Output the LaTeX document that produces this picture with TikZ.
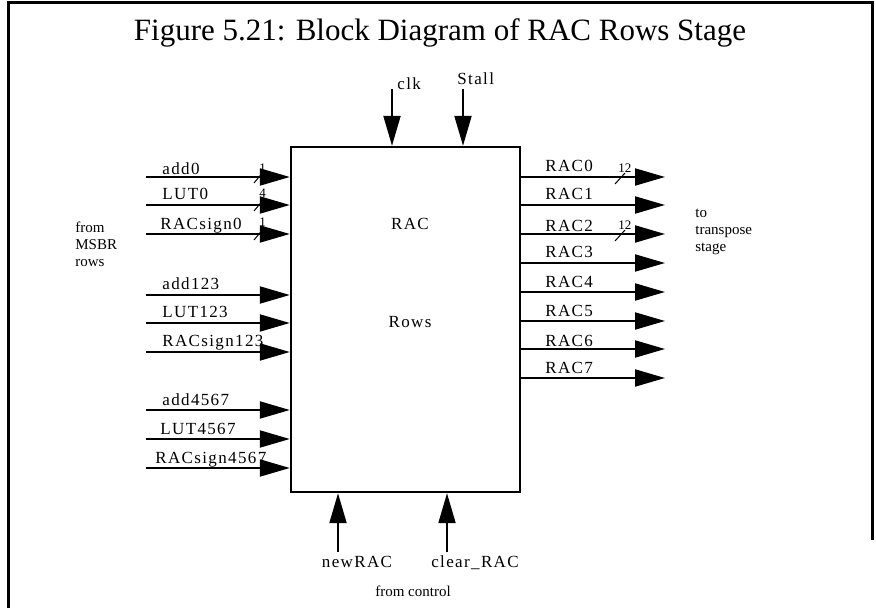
\documentclass[tikz,border=0pt]{standalone}
\usepackage{fontspec}
\setmainfont{Liberation Serif}
\usetikzlibrary{arrows.meta}

\tikzset{
    sig/.style={line width=1pt, -{Triangle[length=15pt, width=8.5pt]}},
    lbl/.style={font=\fontsize{8.5}{9.5}\selectfont\addfontfeature{LetterSpace=8}, inner sep=0pt, anchor=base west},
    busw/.style={font=\fontsize{6.5}{7}\selectfont, inner sep=0pt, anchor=base west},
    note/.style={font=\fontsize{7.5}{8.5}\selectfont, inner sep=0pt, align=left, anchor=west},
}

\begin{document}
\begin{tikzpicture}[x=0.5pt, y=-0.5pt]
    \useasboundingbox (0,0) rectangle (876,608);
    % Рамка
    \draw[line width=1.5pt] (8,608) -- (8,3) -- (872,3) -- (872,540);

    % Заголовок
    \node[font=\fontsize{15.5}{18}\selectfont, inner sep=0pt] (title) at (440,33) {Figure 5.21: Block Diagram of RAC Rows Stage};

    % Блок RAC Rows
    \node[draw, line width=1.2pt, minimum width=114.5pt, minimum height=172.5pt, inner sep=0pt] (rac) at (405.5,319.5) {};
    \node[lbl, anchor=center] (racname) at (410,224) {RAC};
    \node[lbl, anchor=center] (rowsname) at (410,322) {Rows};

    % Входы слева
    \coordinate (add0) at (146,177);
    \coordinate (lut0) at (146,205);
    \coordinate (sign0) at (146,234);
    \coordinate (add123) at (146,295);
    \coordinate (lut123) at (146,323);
    \coordinate (sign123) at (146,352);
    \coordinate (add4567) at (146,410);
    \coordinate (lut4567) at (146,439);
    \coordinate (sign4567) at (146,468);

    % Разрядность шин
    \draw[line width=0.5pt] (254,183) -- (264,171);
    \draw[line width=0.5pt] (254,211) -- (264,199);
    \draw[line width=0.5pt] (254,240) -- (264,228);
    \node[busw] (w0) at (259,173) {1};
    \node[busw] (w1) at (259,198) {4};
    \node[busw] (w2) at (259,227) {1};

    \draw[sig] (add0) -- (add0 -| rac.west);
    \draw[sig] (lut0) -- (lut0 -| rac.west);
    \draw[sig] (sign0) -- (sign0 -| rac.west);
    \draw[sig] (add123) -- (add123 -| rac.west);
    \draw[sig] (lut123) -- (lut123 -| rac.west);
    \draw[sig] (sign123) -- (sign123 -| rac.west);
    \draw[sig] (add4567) -- (add4567 -| rac.west);
    \draw[sig] (lut4567) -- (lut4567 -| rac.west);
    \draw[sig] (sign4567) -- (sign4567 -| rac.west);

    \node[lbl] (add0l) at (162,175) {add0};
    \node[lbl] (lut0l) at (162,200) {LUT0};
    \node[lbl] (sign0l) at (160,230) {RACsign0};
    \node[lbl] (add123l) at (162,290) {add123};
    \node[lbl] (lut123l) at (162,318) {LUT123};
    \node[lbl] (sign123l) at (162,347) {RACsign123};
    \node[lbl] (add4567l) at (162,405) {add4567};
    \node[lbl] (lut4567l) at (160,434) {LUT4567};
    \node[lbl] (sign4567l) at (155,463) {RACsign4567};

    \node[note] (frommsbr) at (75,244) {from\\MSBR\\rows};

    % Выходы справа
    \coordinate (rac0) at (665,177);
    \coordinate (rac1) at (665,205);
    \coordinate (rac2) at (665,234);
    \coordinate (rac3) at (665,263);
    \coordinate (rac4) at (665,292);
    \coordinate (rac5) at (665,321);
    \coordinate (rac6) at (665,349);
    \coordinate (rac7) at (665,378);

    \draw[sig] (rac0 -| rac.east) -- (rac0);
    \draw[sig] (rac1 -| rac.east) -- (rac1);
    \draw[sig] (rac2 -| rac.east) -- (rac2);
    \draw[sig] (rac3 -| rac.east) -- (rac3);
    \draw[sig] (rac4 -| rac.east) -- (rac4);
    \draw[sig] (rac5 -| rac.east) -- (rac5);
    \draw[sig] (rac6 -| rac.east) -- (rac6);
    \draw[sig] (rac7 -| rac.east) -- (rac7);

    \draw[line width=0.5pt] (615,184) -- (625,173);
    \draw[line width=0.5pt] (615,241) -- (625,230);
    \node[busw] (w3) at (618,173) {12};
    \node[busw] (w4) at (618,230) {12};

    \node[lbl] (rac0l) at (545,172) {RAC0};
    \node[lbl] (rac1l) at (545,200) {RAC1};
    \node[lbl] (rac2l) at (545,232) {RAC2};
    \node[lbl] (rac3l) at (545,258) {RAC3};
    \node[lbl] (rac4l) at (545,288) {RAC4};
    \node[lbl] (rac5l) at (545,317) {RAC5};
    \node[lbl] (rac6l) at (545,347) {RAC6};
    \node[lbl] (rac7l) at (545,373) {RAC7};

    \node[note] (totrans) at (695,232) {to\\transpose\\stage};

    % Сверху: clk и Stall
    \coordinate (clk) at (392,89);
    \coordinate (stall) at (463,89);
    \draw[sig] (clk) -- (clk |- rac.north);
    \draw[sig] (stall) -- (stall |- rac.north);
    \node[lbl] (clkl) at (397,90) {clk};
    \node[lbl] (stalll) at (457,85) {Stall};

    % Снизу: newRAC и clear_RAC
    \coordinate (newrac) at (338,552);
    \coordinate (clearrac) at (447,552);
    \draw[sig] (newrac) -- (newrac |- rac.south);
    \draw[sig] (clearrac) -- (clearrac |- rac.south);
    \node[lbl, anchor=base] (newracl) at (357,567) {newRAC};
    \node[lbl, anchor=base] (clearracl) at (475,567) {clear\_RAC};
    \node[font=\fontsize{7.5}{8.5}\selectfont, inner sep=0pt, anchor=base] (fromctrl) at (413,596) {from control};
\end{tikzpicture}
\end{document}
